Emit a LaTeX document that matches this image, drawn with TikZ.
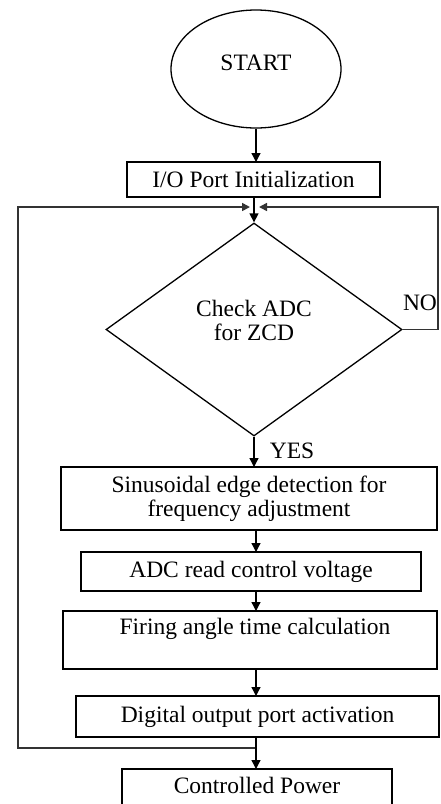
\documentclass[tikz,border=0pt]{standalone}
\usepackage{fontspec}
\setmainfont{Liberation Serif}
\usetikzlibrary{shapes.geometric,arrows.meta}
\begin{document}
\begin{tikzpicture}[x=1pt,y=-1pt,
  every node/.style={font=\fontsize{23.5}{24}\selectfont},
  box/.style={draw,line width=1.3pt,rectangle,inner sep=0pt,outer sep=0pt,align=center},
  txt/.style={inner sep=0pt,align=center},
  arr/.style={line width=1.3pt,-{Triangle[width=9pt,length=9pt]}},
  loopline/.style={line width=1.6pt,black!80,-{Triangle[width=8pt,length=8pt]}}]
\useasboundingbox (0,0) rectangle (440,804);
\clip (0,0) rectangle (440,804);
% nodes
\node[draw,ellipse,line width=1.3pt,minimum width=170pt,minimum height=118pt,inner sep=0pt] (start) at (256,69) {};
\node[txt] (starttxt) at (256,63) {START};
\node[box,minimum width=253pt,minimum height=35pt] (io) at (253.5,179.5) {I/O Port Initialization};
\node[draw,diamond,line width=1.3pt,minimum width=296pt,minimum height=213pt,inner sep=0pt] (chk) at (254,329.5) {};
\node[txt] (chktxt) at (254,320) {Check ADC\\for ZCD};
\node[box,minimum width=376pt,minimum height=63pt] (sin) at (249,498.5) {Sinusoidal edge detection for\\frequency adjustment};
\node[box,minimum width=340pt,minimum height=39pt] (adc) at (251,571.5) {ADC read control voltage};
\node[box,minimum width=374pt,minimum height=58pt] (fir) at (250,640) {};
\node[txt] (firtxt) at (255,629) {Firing angle time calculation};
\node[box,minimum width=363pt,minimum height=41pt] (dig) at (257.5,716.5) {Digital output port activation};
\node[box,minimum width=270pt,minimum height=44pt] (pow) at (257,791) {};
\node[txt] (powtxt) at (257,785) {Controlled Power};
\node[txt] (yes) at (292,451) {YES};
\node[txt] (no) at (420,303) {NO};
% helper coordinates
\coordinate (ax) at (256,0);
\coordinate (mL) at (250,207);
\coordinate (mR) at (259,207);
\coordinate (lb) at (256,748);
\coordinate (ll) at (18,748);
\coordinate (lt) at (18,207);
\coordinate (nr) at (438,329.5);
\coordinate (nt) at (438,207);
% connectors
\draw[arr] (start.south) -- (start.south |- io.north);
\draw[arr] (io.south -| chk.north) -- (chk.north);
\draw[loopline] (lb) -- (ll) -- (lt) -- (mL);
\draw[loopline] (chk.east) -- (nr) -- (nt) -- (mR);
\draw[arr] (chk.south) -- (chk.south |- sin.north);
\draw[arr] (sin.south -| ax) -- (adc.north -| ax);
\draw[arr] (adc.south -| ax) -- (fir.north -| ax);
\draw[arr] (fir.south -| ax) -- (dig.north -| ax);
\draw[arr] (dig.south -| ax) -- (pow.north -| ax);
\end{tikzpicture}
\end{document}
